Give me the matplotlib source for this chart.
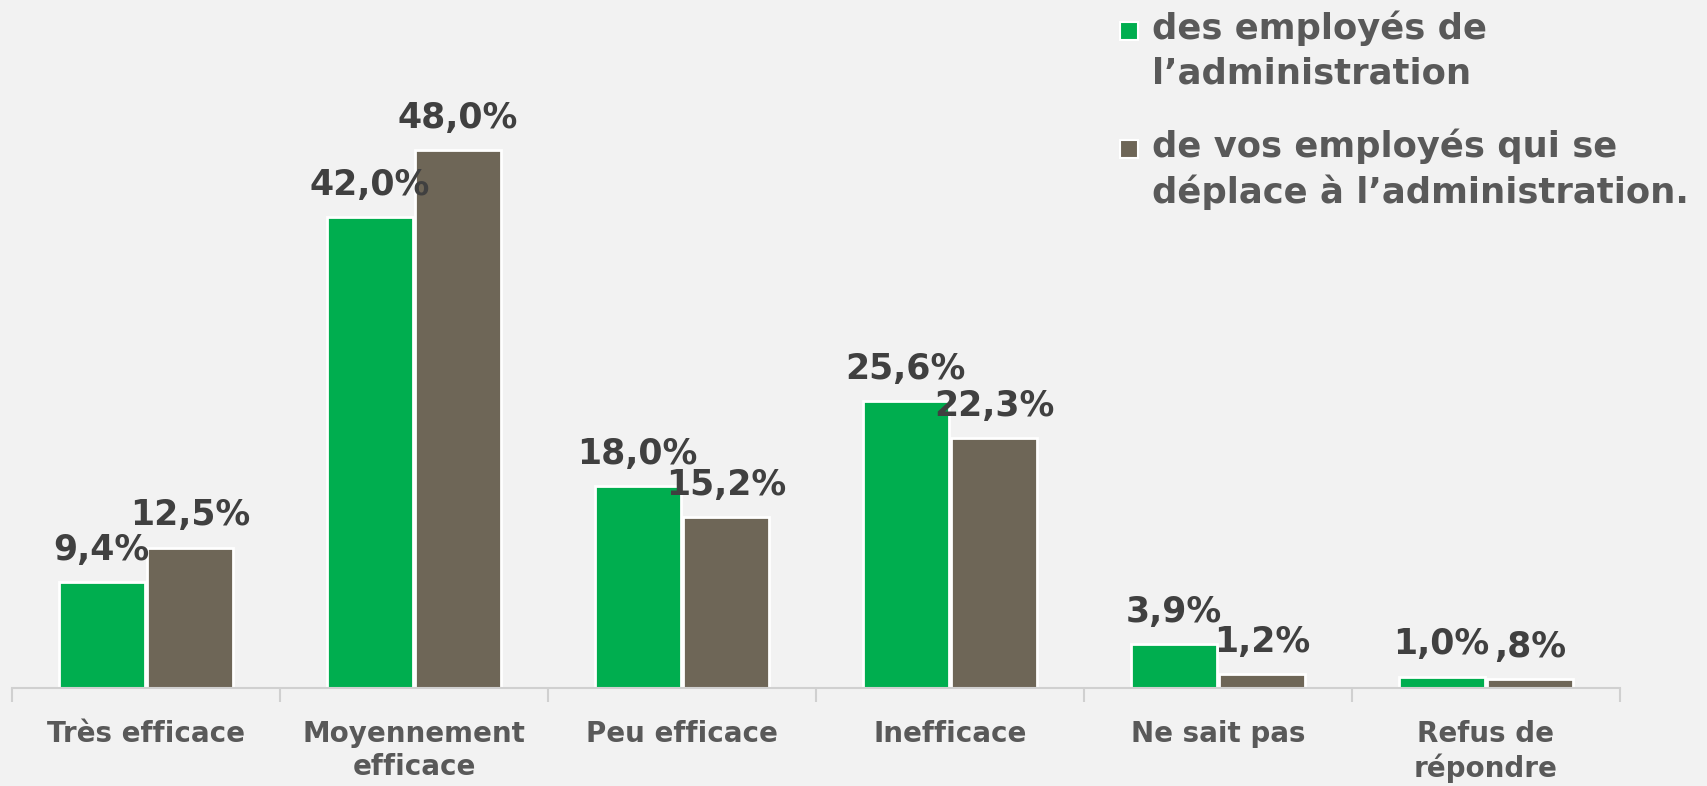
import matplotlib
matplotlib.use('Agg')
import matplotlib.pyplot as plt
from matplotlib.patches import Rectangle
import numpy as np

plt.rcParams['font.family'] = ['DejaVu Sans']

categories = ['Très efficace', 'Moyennement\nefficace', 'Peu efficace',
              'Inefficace', 'Ne sait pas', 'Refus de\nrépondre']
admin = [9.4, 42.0, 18.0, 25.6, 3.9, 1.0]
deplace = [12.5, 48.0, 15.2, 22.3, 1.2, 0.8]
admin_lbl = ['9,4%', '42,0%', '18,0%', '25,6%', '3,9%', '1,0%']
deplace_lbl = ['12,5%', '48,0%', '15,2%', '22,3%', '1,2%', ',8%']
series = ["des employés de\nl’administration",
          "de vos employés qui se\ndéplace à l’administration."]

green = '#00AE4F'
brown = '#6E6657'
bg = '#F2F2F2'
W, H = 1707, 786

fig = plt.figure(figsize=(W / 100, H / 100), dpi=100, facecolor=bg)
ax = fig.add_axes([0.007, 0.125, 0.942, 0.875])
ax.set_facecolor(bg)

x = np.arange(len(categories))
w = 0.32
b1 = ax.bar(x - w / 2 - 0.005, admin, w, color=green, edgecolor='white', linewidth=2)
b2 = ax.bar(x + w / 2 + 0.005, deplace, w, color=brown, edgecolor='white', linewidth=2)

for bars, lbls in [(b1, admin_lbl), (b2, deplace_lbl)]:
    for r, t in zip(bars, lbls):
        ax.annotate(t, (r.get_x() + r.get_width() / 2, r.get_height()),
                    xytext=(0, 11), textcoords='offset points', ha='center', va='bottom',
                    fontsize=25, fontweight='bold', color='#404040')

ax.set_xlim(-0.5, len(categories) - 0.5)
ax.set_ylim(0, 61.4)
ax.set_yticks([])
for s in ['top', 'right', 'left']:
    ax.spines[s].set_visible(False)
ax.spines['bottom'].set_color('#D0D0D0')
ax.spines['bottom'].set_linewidth(1.5)

ax.set_xticks(x)
ax.set_xticklabels(categories, fontsize=20, fontweight='bold', color='#595959', linespacing=1.25)
ax.tick_params(axis='x', which='major', length=0, pad=23)
ax.set_xticks(np.arange(-0.5, len(categories), 1), minor=True)
ax.tick_params(axis='x', which='minor', length=10, width=1.5, color='#D0D0D0')

# legend drawn by hand so the square sits on the first line
leg_tops = [10, 128]
for i, (lab, col) in enumerate(zip(series, [green, brown])):
    top = leg_tops[i]
    fig.patches.append(Rectangle((1120 / W, 1 - (top + 30) / H), 18 / W, 18 / H,
                                 transform=fig.transFigure, facecolor=col,
                                 edgecolor='white', linewidth=1.5))
    fig.text(1152 / W, 1 - top / H, lab, ha='left', va='top', fontsize=25.5,
             fontweight='bold', color='#595959', linespacing=1.4)

fig.savefig('out.png', dpi=100, facecolor=bg)
